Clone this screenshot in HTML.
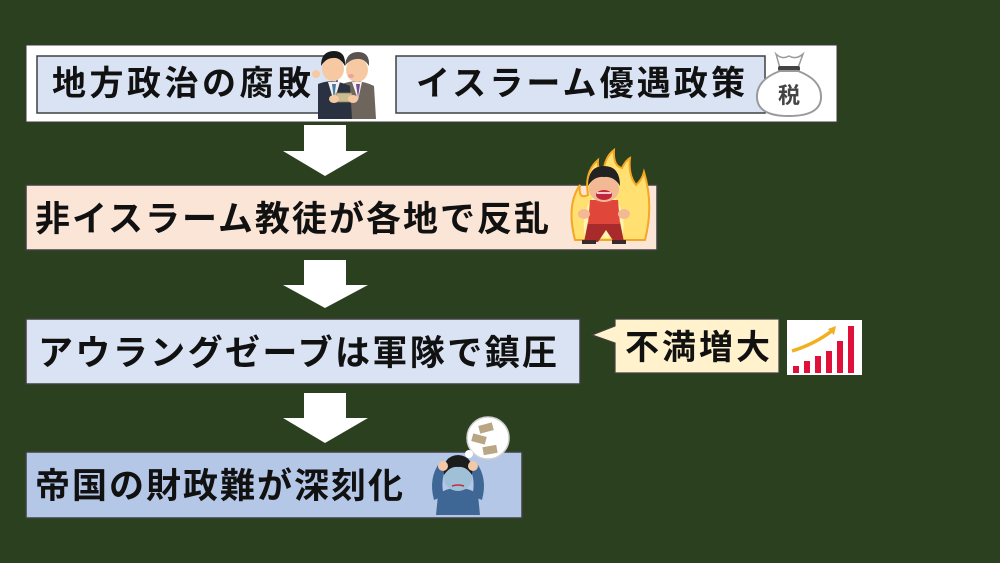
<!DOCTYPE html>
<html>
<head>
<meta charset="utf-8">
<style>
  html,body{margin:0;padding:0;background:#2b401f;}
  body{width:1000px;height:563px;overflow:hidden;}
  svg{display:block;}
  .t{font-family:"Liberation Sans","Noto Sans CJK JP",sans-serif;font-weight:700;fill:#111;}
</style>
</head>
<body>
<svg width="1000" height="563" viewBox="0 0 1000 563" xmlns="http://www.w3.org/2000/svg">
  <rect x="0" y="0" width="1000" height="563" fill="#2b401f"/>

  <!-- Top white container -->
  <rect x="26" y="45" width="811" height="77" fill="#ffffff" stroke="#3a3a3a" stroke-width="1"/>
  <rect x="37" y="56" width="300" height="57" fill="#dae3f3" stroke="#404040" stroke-width="1.5"/>
  <rect x="396" y="56" width="369" height="57" fill="#dae3f3" stroke="#404040" stroke-width="1.5"/>
  <text class="t" x="52" y="95" font-size="34" textLength="259" lengthAdjust="spacing">地方政治の腐敗</text>
  <text class="t" x="416" y="95" font-size="34" textLength="329" lengthAdjust="spacing">イスラーム優遇政策</text>

  <!-- Businessmen illustration -->
  <g>
    <!-- right man (gray suit) -->
    <path d="M342 84 Q358 78 374 86 L376 119 L342 119 Z" fill="#6e655d"/>
    <path d="M352 82 L358 100 L362 82 Z" fill="#f2f2f2"/>
    <path d="M356 84 L358 98 L360 84 Z" fill="#7a4a8a"/>
    <ellipse cx="357" cy="70" rx="11" ry="12" fill="#f6c9a2"/>
    <path d="M345 66 Q346 52 358 52 Q370 52 369 66 Q364 58 357 59 Q350 59 345 66 Z" fill="#5a5450"/>
    <ellipse cx="351" cy="76" rx="3" ry="2" fill="#f0a0a0"/>
    <!-- left man (dark suit) -->
    <path d="M318 84 Q333 78 350 86 L352 119 L318 119 Z" fill="#2a3140"/>
    <path d="M328 82 L334 102 L340 82 Z" fill="#f2f2f2"/>
    <path d="M332 84 L334 100 L336 84 Z" fill="#4a7aa0"/>
    <ellipse cx="333" cy="69" rx="11" ry="12" fill="#f6c9a2"/>
    <path d="M321 66 Q321 51 334 51 Q346 51 345 66 Q340 57 333 58 Q326 58 321 66 Z" fill="#1a1a1a"/>
    <ellipse cx="316" cy="74" rx="4" ry="4" fill="#f6c9a2"/>
    <!-- money & hands -->
    <rect x="336" y="93" width="16" height="9" fill="#c9bb92" stroke="#8a7d5a" stroke-width="0.8"/>
    <ellipse cx="334" cy="99" rx="5" ry="4" fill="#f6c9a2"/>
    <ellipse cx="353" cy="99" rx="5" ry="4" fill="#f6c9a2"/>
  </g>

  <!-- Tax bag -->
  <g>
    <path d="M776 54 Q782 60 789 56 Q796 60 803 54 L798 68 L780 68 Z" fill="#ffffff" stroke="#9a9a9a" stroke-width="1.5"/>
    <rect x="778" y="66" width="22" height="5" rx="2" fill="#444"/>
    <path d="M780 71 Q756 80 757 98 Q758 116 789 116 Q820 116 821 98 Q822 80 798 71 Z" fill="#ffffff" stroke="#9a9a9a" stroke-width="2"/>
    <text x="789" y="103" font-size="22" text-anchor="middle" font-family="'Liberation Sans','Noto Sans CJK JP',sans-serif" font-weight="700" fill="#444">税</text>
  </g>

  <!-- Arrow 1 -->
  <polygon points="304,125 346,125 346,151 368,151 325,176 283,151 304,151" fill="#ffffff"/>

  <!-- Box 2 -->
  <rect x="26" y="185" width="631" height="65" fill="#fbe5d6" stroke="#404040" stroke-width="1.5"/>
  <text class="t" x="35" y="231" font-size="35" textLength="514" lengthAdjust="spacing">非イスラーム教徒が各地で反乱</text>

  <!-- Angry man -->
  <g>
    <path d="M575 240 Q566 205 580 185 Q578 200 588 195 Q584 172 598 160 Q597 172 604 168 Q606 156 614 150 Q613 166 622 168 Q626 160 630 158 Q628 175 636 185 Q642 180 644 172 Q654 205 645 240 Z" fill="#ffe070" stroke="#f5a623" stroke-width="2"/>
    <path d="M585 238 Q580 210 595 195 L612 195 Q628 210 622 238 Z" fill="#fff3b0"/>
    <!-- pants -->
    <path d="M588 222 L620 222 L624 242 L614 242 L606 230 L598 242 L584 242 Z" fill="#a82a2a"/>
    <rect x="582" y="240" width="14" height="4" fill="#3a2a2a"/>
    <rect x="612" y="240" width="14" height="4" fill="#3a2a2a"/>
    <!-- shirt -->
    <path d="M590 200 L618 200 L620 224 L588 224 Z" fill="#e0473a"/>
    <ellipse cx="584" cy="214" rx="6" ry="5" fill="#f3b894"/>
    <ellipse cx="624" cy="214" rx="6" ry="5" fill="#f3b894"/>
    <!-- head -->
    <ellipse cx="604" cy="189" rx="15" ry="13" fill="#f3b894"/>
    <path d="M588 186 Q588 166 604 166 Q620 166 620 186 Q614 176 604 177 Q594 176 588 186 Z" fill="#222"/>
    <ellipse cx="604" cy="195" rx="8" ry="5" fill="#c0283a"/>
    <path d="M597 193 L611 193" stroke="#fff" stroke-width="1.5"/>
  </g>

  <!-- Arrow 2 -->
  <polygon points="304,260 346,260 346,285 368,285 325,308 283,285 304,285" fill="#ffffff"/>

  <!-- Box 3 -->
  <rect x="26" y="319" width="554" height="65" fill="#dae3f3" stroke="#404040" stroke-width="1.5"/>
  <text class="t" x="38" y="365" font-size="35" textLength="519" lengthAdjust="spacing">アウラングゼーブは軍隊で鎮圧</text>

  <!-- Callout -->
  <path d="M615 319 L779 319 L779 373 L615 373 L615 343 L592 335 L615 326 Z" fill="#fff2cc" stroke="#404040" stroke-width="1.2"/>
  <text class="t" x="625" y="359" font-size="34" textLength="145" lengthAdjust="spacing">不満増大</text>

  <!-- Chart -->
  <g>
    <rect x="787" y="320" width="75" height="55" fill="#ffffff"/>
    <rect x="793" y="366" width="6" height="7" fill="#e0103a"/>
    <rect x="804" y="361" width="6" height="12" fill="#e0103a"/>
    <rect x="815" y="356" width="6" height="17" fill="#e0103a"/>
    <rect x="826" y="351" width="6" height="22" fill="#e0103a"/>
    <rect x="837" y="341" width="6" height="32" fill="#e0103a"/>
    <rect x="848" y="326" width="6" height="47" fill="#e0103a"/>
    <path d="M792 351 Q815 344 833 330" stroke="#f0b020" stroke-width="3.5" fill="none"/>
    <polygon points="836,326 828,329 834,335" fill="#f0b020"/>
  </g>

  <!-- Arrow 3 -->
  <polygon points="304,393 346,393 346,418 368,418 325,443 283,418 304,418" fill="#ffffff"/>

  <!-- Box 4 -->
  <rect x="26" y="452" width="496" height="66" fill="#b4c7e7" stroke="#404040" stroke-width="1.5"/>
  <text class="t" x="35" y="498" font-size="35" textLength="368" lengthAdjust="spacing">帝国の財政難が深刻化</text>

  <!-- Worried man -->
  <g>
    <circle cx="488" cy="438" r="21" fill="#ffffff" stroke="#d0d0d0" stroke-width="1.5"/>
    <circle cx="469" cy="454" r="4" fill="#ffffff"/>
    <circle cx="462" cy="462" r="2.5" fill="#ffffff"/>
    <rect x="479" y="424" width="14" height="8" fill="#b9a684" transform="rotate(-15 486 428)"/>
    <rect x="472" y="435" width="14" height="8" fill="#b9a684" transform="rotate(15 479 439)"/>
    <rect x="483" y="446" width="14" height="8" fill="#b9a684" transform="rotate(-10 490 450)"/>
    <!-- body -->
    <path d="M436 515 L438 495 Q445 488 458 488 Q471 488 478 495 L480 515 Z" fill="#3f6796"/>
    <path d="M434 500 Q428 478 440 462 L446 468 Q440 482 444 496 Z" fill="#3f6796"/>
    <path d="M482 500 Q488 478 476 462 L470 468 Q476 482 472 496 Z" fill="#3f6796"/>
    <!-- head -->
    <ellipse cx="458" cy="478" rx="14" ry="13" fill="#9fc0d6"/>
    <path d="M444 475 Q442 456 458 455 Q474 456 472 475 Q466 466 458 467 Q450 466 444 475 Z" fill="#1c1c1c"/>
    <ellipse cx="443" cy="466" rx="5" ry="5" fill="#f3c8a6"/>
    <ellipse cx="473" cy="466" rx="5" ry="5" fill="#f3c8a6"/>
    <path d="M452 486 Q458 484 464 486" stroke="#c03040" stroke-width="1.5" fill="none"/>
  </g>
</svg>
</body>
</html>
